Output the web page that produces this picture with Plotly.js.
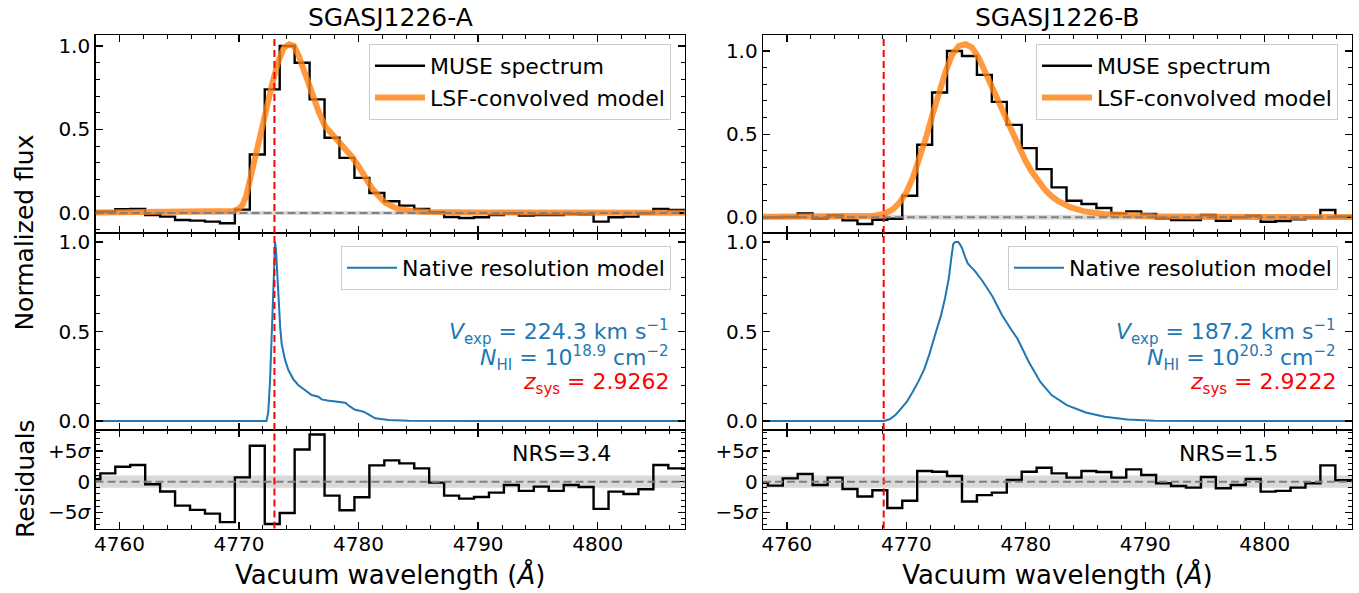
<!DOCTYPE html>
<html>
<head>
<meta charset="utf-8">
<script src="https://cdn.plot.ly/plotly-3.0.1.min.js"></script>
<style>
html,body{margin:0;padding:0;background:#ffffff;}
#chart{width:1359px;height:593px;}
</style>
</head>
<body>
<div id="chart"></div>
<script>
// ---------------- data ----------------
const panelTitles = ["SGASJ1226-A", "SGASJ1226-B"];

// MUSE pixel centres (Å)
const wavelength = [4757.78, 4759.03, 4760.28, 4761.53, 4762.78, 4764.03, 4765.28, 4766.53, 4767.78, 4769.03,
  4770.28, 4771.53, 4772.78, 4774.03, 4775.28, 4776.53, 4777.78, 4779.03, 4780.28, 4781.53,
  4782.78, 4784.03, 4785.28, 4786.53, 4787.78, 4789.03, 4790.28, 4791.53, 4792.78, 4794.03,
  4795.28, 4796.53, 4797.78, 4799.03, 4800.28, 4801.53, 4802.78, 4804.03, 4805.28, 4806.53, 4807.78];

// Normalized MUSE flux
const fluxA = [0.008, 0.008, 0.022, 0.024, -0.012, -0.022, -0.042, -0.046, -0.052, -0.062,
  0.02, 0.35, 0.74, 1.0, 0.90, 0.68, 0.45, 0.33, 0.21, 0.12,
  0.07, 0.044, 0.024, 0.004, -0.024, -0.03, -0.026, -0.012, -0.002, -0.016,
  -0.012, -0.012, -0.006, -0.008, -0.052, -0.026, -0.022, -0.002, 0.024, 0.018, 0.018];
const fluxB = [0.0, 0.0, 0.002, 0.024, -0.006, 0.012, -0.018, -0.04, -0.014, -0.008,
  0.13, 0.436, 0.75, 1.0, 0.97, 0.856, 0.694, 0.556, 0.416, 0.29,
  0.18, 0.10, 0.08, 0.056, 0.024, 0.036, 0.02, -0.006, -0.016, -0.016,
  0.014, -0.02, 0.0, 0.01, -0.026, -0.022, -0.012, 0.0, 0.044, 0.004, 0.004];

// Residuals in units of sigma
const residA = [0.38, 1.35, 2.43, 2.7, -0.43, -1.6, -3.9, -4.6, -5.2, -6.6,
  0.7, 5.84, -6.9, -5.1, 5.24, 7.68, -2.27, -4.65, -2.54, 2.65,
  3.46, 2.97, 2.16, -0.16, -2.27, -2.76, -2.49, -1.78, -0.54, -1.51,
  -0.81, -1.51, -0.54, -0.86, -4.43, -1.62, -2.0, -1.24, 2.7, 2.16, 2.16];
const residB = [-0.2, -0.65, 0.54, 1.24, -0.54, 0.65, -1.19, -2.43, -1.4, -4.3,
  -3.1, 1.73, 1.62, 0.92, -3.24, -2.2, -1.78, 0.27, 1.62, 2.27,
  1.35, 0.65, 1.73, 1.57, 0.65, 2.0, 1.08, -0.27, -0.7, -0.97,
  0.76, -1.08, -0.54, 0.43, -1.62, -1.51, -0.97, -0.27, 2.65, 0.22, 0.22];

// LSF-convolved model
const lsfWaveA = [4758.0, 4762.0, 4766.0, 4768.0, 4769.0, 4769.5, 4770.0, 4770.3, 4770.6, 4771.1,
  4771.7, 4772.2, 4772.8, 4773.3, 4773.75, 4774.2, 4774.6, 4775.0, 4775.6, 4776.1,
  4776.7, 4777.2, 4777.8, 4778.3, 4778.9, 4779.4, 4780.0, 4780.6, 4781.1, 4781.7,
  4782.2, 4782.8, 4783.3, 4784.4, 4786.1, 4790.0, 4800.0, 4807.3];
const lsfFluxA = [0.003, 0.003, 0.003, 0.004, 0.007, 0.012, 0.025, 0.05, 0.10, 0.26,
  0.44, 0.62, 0.78, 0.91, 0.99, 1.01, 1.0, 0.94, 0.82, 0.70,
  0.60, 0.52, 0.47, 0.43, 0.39, 0.34, 0.28, 0.21, 0.15, 0.10,
  0.064, 0.04, 0.024, 0.012, 0.006, 0.003, 0.002, 0.002];
const lsfWaveB = [4758.0, 4764.0, 4766.0, 4767.25, 4768.15, 4768.9, 4769.45, 4770.0, 4770.55, 4771.1,
  4771.65, 4772.2, 4772.75, 4773.3, 4773.85, 4774.4, 4774.95, 4775.5, 4776.05, 4776.6,
  4777.15, 4777.7, 4778.25, 4778.8, 4779.35, 4779.9, 4780.45, 4781.0, 4781.55, 4782.1,
  4782.65, 4783.75, 4784.9, 4786.5, 4788.7, 4790.7, 4795.0, 4807.3];
const lsfFluxB = [0.003, 0.004, 0.006, 0.01, 0.02, 0.05, 0.09, 0.15, 0.24, 0.35,
  0.48, 0.62, 0.76, 0.88, 0.98, 1.03, 1.04, 1.02, 0.96, 0.87,
  0.78, 0.69, 0.60, 0.51, 0.43, 0.35, 0.28, 0.22, 0.17, 0.13,
  0.10, 0.06, 0.036, 0.02, 0.01, 0.006, 0.003, 0.002];

// Native resolution model
const nativeWaveA = [4758.0, 4772.3, 4772.45, 4772.6, 4772.72, 4772.85, 4772.95, 4773.02, 4773.1, 4773.2,
  4773.3, 4773.44, 4773.57, 4773.72, 4773.86, 4774.13, 4774.55, 4774.97, 4775.53, 4776.08,
  4776.64, 4776.92, 4777.4, 4778.04, 4778.5, 4778.88, 4779.3, 4779.71, 4780.1, 4780.41,
  4780.83, 4781.39, 4782.5, 4784.2, 4790.0, 4807.3];
const nativeFluxA = [0.0, 0.0, 0.05, 0.23, 0.45, 0.72, 0.92, 1.0, 0.95, 0.82,
  0.69, 0.53, 0.43, 0.38, 0.34, 0.285, 0.233, 0.20, 0.173, 0.145,
  0.136, 0.121, 0.115, 0.111, 0.108, 0.102, 0.08, 0.063, 0.058, 0.052,
  0.037, 0.015, 0.006, 0.001, 0.0, 0.0];
const nativeWaveB = [4758.0, 4768.13, 4768.6, 4769.08, 4769.5, 4770.04, 4770.5, 4771.0, 4771.5, 4771.95,
  4772.4, 4772.9, 4773.25, 4773.55, 4773.8, 4773.93, 4774.1, 4774.34, 4774.5, 4774.66,
  4774.9, 4775.14, 4775.78, 4776.41, 4777.21, 4778.0, 4778.8, 4779.28, 4780.24, 4781.2,
  4782.15, 4783.43, 4785.02, 4786.6, 4788.5, 4790.76, 4795.0, 4807.3];
const nativeFluxB = [0.0, 0.0, 0.01, 0.034, 0.065, 0.108, 0.16, 0.22, 0.29, 0.378,
  0.48, 0.59, 0.69, 0.797, 0.93, 0.99, 1.0, 1.0, 0.985, 0.965,
  0.92, 0.88, 0.834, 0.778, 0.695, 0.592, 0.508, 0.462, 0.331, 0.22,
  0.145, 0.089, 0.048, 0.024, 0.009, 0.002, 0.0, 0.0];

// Fit results
const lyaRest = 1215.67;
const zsys = [2.9262, 2.9222];
const vexp = ["224.3", "187.2"];
const logNHI = ["18.9", "20.3"];
const nrs = ["3.4", "1.5"];
const fluxErr = [0.012, 0.015];      // flux noise band in the top panels
const residBand = 1;                 // ±1 sigma band
const residTickVals = [-5, 0, 5];

// ---------------- drawing ----------------
const FONT = "DejaVu Sans, Liberation Sans, sans-serif";
const W = 1359, H = 593;
const colPx = [[95.5, 685], [763, 1352]];
const rowPx = [[35.3, 233], [233, 430], [430, 528.5]];
const xRange = [4758, 4807.3];
const yRanges = [[[-0.12, 1.064], [-0.05, 1.05], [-7.63, 8.41]],
                 [[-0.094, 1.094], [-0.05, 1.05], [-7.63, 8.41]]];

// styled text helpers (explicit sizes, sub/superscripts via baseline-shift)
const it = (t, px) => "<span style=\"font-style:italic;font-size:" + px + "px\">" + t + "</span>";
const sub = (t, px) => "<span style=\"font-size:" + px + "px;baseline-shift:-" + Math.round(px * 0.35) + "px\">" + t + "</span>";
const sup = (t, px) => "<span style=\"font-size:" + px + "px;baseline-shift:" + Math.round(px * 0.6) + "px\">" + t + "</span>";
const residTickText = ["\u22125" + it("\u03c3", 20), "0", "+5" + it("\u03c3", 20)];

const dom = (a, b, tot) => [a / tot, b / tot];
const ydom = (top, bot) => [1 - bot / H, 1 - top / H];

const specs = [
  {flux: fluxA, resid: residA, lw: lsfWaveA, lf: lsfFluxA, nw: nativeWaveA, nf: nativeFluxA},
  {flux: fluxB, resid: residB, lw: lsfWaveB, lf: lsfFluxB, nw: nativeWaveB, nf: nativeFluxB}
];

const traces = [];
const shapes = [];
const annotations = [];
const layout = {
  width: W, height: H,
  margin: {l: 0, r: 0, t: 0, b: 0},
  paper_bgcolor: "#ffffff", plot_bgcolor: "#ffffff",
  font: {family: FONT, color: "#000000", size: 20},
  showlegend: true
};

function axId(c, r) { return 3 * c + r + 1; }
function axName(prefix, n) { return n === 1 ? prefix : prefix + n; }

for (let c = 0; c < 2; c++) {
  const s = specs[c];
  const lam = lyaRest * (1 + zsys[c]);
  const leg1 = c === 0 ? "legend" : "legend3";
  const leg2 = c === 0 ? "legend2" : "legend4";
  for (let r = 0; r < 3; r++) {
    const n = axId(c, r);
    const xa = axName("xaxis", n), ya = axName("yaxis", n);
    const xr = axName("x", n), yr = axName("y", n);
    layout[xa] = {
      domain: dom(colPx[c][0], colPx[c][1], W),
      anchor: yr, range: xRange,
      showline: true, mirror: "allticks", linecolor: "#000000", linewidth: 1.3,
      ticks: "inside", ticklen: 7, tickwidth: 1.3, tickcolor: "#000000",
      tick0: 4760, dtick: 10,
      minor: {ticks: "inside", ticklen: 4, tickwidth: 1, tickcolor: "#000000", tick0: 4760, dtick: 2},
      showgrid: false, zeroline: false,
      showticklabels: r === 2,
      ticklabelstandoff: -3,
      tickfont: {family: FONT, size: 20, color: "#000000"}
    };
    if (r === 2) {
      layout[xa].title = {text: "Vacuum wavelength (" + it("\u00c5", 26) + ")", font: {family: FONT, size: 26, color: "#000000"}, standoff: 11};
    }
    const yax = {
      domain: ydom(rowPx[r][0], rowPx[r][1]),
      anchor: xr, range: yRanges[c][r],
      showline: true, mirror: "allticks", linecolor: "#000000", linewidth: 1.3,
      ticks: "inside", ticklen: 7, tickwidth: 1.3, tickcolor: "#000000",
      showgrid: false, zeroline: false,
      tickfont: {family: FONT, size: 20, color: "#000000"}
    };
    if (r < 2) {
      yax.tick0 = 0; yax.dtick = 0.5; yax.tickformat = ".1f";
      yax.minor = {ticks: "inside", ticklen: 4, tickwidth: 1, tickcolor: "#000000", tick0: 0, dtick: 0.1};
    } else {
      yax.tickmode = "array"; yax.tickvals = residTickVals; yax.ticktext = residTickText;
      yax.minor = {ticks: "inside", ticklen: 4, tickwidth: 1, tickcolor: "#000000", tickmode: "linear", tick0: 0, dtick: 1};
    }
    layout[ya] = yax;

    // red systemic line
    shapes.push({type: "line", xref: xr, yref: yr + " domain", x0: lam, x1: lam, y0: 0, y1: 1,
      line: {color: "#ff0000", width: 2, dash: "7px,4px"}, layer: "above"});
    if (r !== 1) {
      const band = r === 0 ? fluxErr[c] : residBand;
      shapes.push({type: "rect", xref: xr + " domain", yref: yr, x0: 0, x1: 1, y0: -band, y1: band,
        fillcolor: "#d9d9d9", line: {width: 0}, layer: "below"});
      shapes.push({type: "line", xref: xr + " domain", yref: yr, x0: 0, x1: 1, y0: 0, y1: 0,
        line: {color: "#808080", width: 2, dash: "8px,4px"}, layer: "above"});
    }
  }
  const n0 = axId(c, 0), n1 = axId(c, 1), n2 = axId(c, 2);
  traces.push({x: wavelength, y: s.flux, xaxis: axName("x", n0), yaxis: axName("y", n0),
    type: "scatter", mode: "lines", line: {shape: "hvh", color: "#000000", width: 2.4},
    name: "MUSE spectrum", legend: leg1, hoverinfo: "skip"});
  traces.push({x: s.lw, y: s.lf, xaxis: axName("x", n0), yaxis: axName("y", n0),
    type: "scatter", mode: "lines", line: {color: "#ff7f0e", width: 6}, opacity: 0.8,
    name: "LSF-convolved model", legend: leg1, hoverinfo: "skip"});
  traces.push({x: s.nw, y: s.nf, xaxis: axName("x", n1), yaxis: axName("y", n1),
    type: "scatter", mode: "lines", line: {color: "#1f77b4", width: 2},
    name: "Native resolution model", legend: leg2, hoverinfo: "skip"});
  traces.push({x: wavelength, y: s.resid, xaxis: axName("x", n2), yaxis: axName("y", n2),
    type: "scatter", mode: "lines", line: {shape: "hvh", color: "#000000", width: 2.4},
    showlegend: false, hoverinfo: "skip"});

  // legends
  const legRight = (colPx[c][1] - 14) / W;
  const legStyle = (ytop) => ({
    x: legRight, xanchor: "right", y: 1 - ytop / H, yanchor: "top",
    bgcolor: "rgba(255,255,255,0.8)", bordercolor: "#cccccc", borderwidth: 1,
    font: {family: FONT, size: 22, color: "#000000"}, tracegroupgap: 0, itemwidth: 50
  });
  layout[leg1] = legStyle(44);
  layout[leg2] = legStyle(246);

  // panel title
  annotations.push({xref: "paper", yref: "paper", x: (colPx[c][0] + colPx[c][1]) / 2 / W, y: 1 - 17 / H,
    xanchor: "center", yanchor: "middle", showarrow: false, text: panelTitles[c],
    font: {family: FONT, size: 25, color: "#000000"}});
  // fit parameters
  const xd = axName("x", n1) + " domain", yv = axName("y", n1);
  const fs = 22, fsS = 15;
  annotations.push({xref: xd, yref: yv, x: 0.977, y: 0.497, xanchor: "right", yanchor: "middle", showarrow: false,
    text: it("V", fs) + sub("exp", fsS) + " = " + vexp[c] + " km s" + sup("\u22121", fsS),
    font: {family: FONT, size: fs, color: "#1f77b4"}});
  annotations.push({xref: xd, yref: yv, x: 0.977, y: 0.352, xanchor: "right", yanchor: "middle", showarrow: false,
    text: it("N", fs) + sub("HI", fsS) + " = 10" + sup(logNHI[c], fsS) + " cm" + sup("\u22122", fsS),
    font: {family: FONT, size: fs, color: "#1f77b4"}});
  annotations.push({xref: xd, yref: yv, x: 0.977, y: 0.207, xanchor: "right", yanchor: "middle", showarrow: false,
    text: it("z", fs) + sub("sys", fsS) + " = " + zsys[c].toFixed(4),
    font: {family: FONT, size: fs, color: "#ff0000"}});
  annotations.push({xref: axName("x", n2) + " domain", yref: axName("y", n2), x: 0.79, y: 4.6,
    xanchor: "center", yanchor: "middle", showarrow: false, text: "NRS=" + nrs[c],
    font: {family: FONT, size: 22, color: "#000000"}});
}

annotations.push({xref: "paper", yref: "paper", x: 25 / W, y: 1 - 232.6 / H, textangle: -90,
  xanchor: "center", yanchor: "middle", showarrow: false, text: "Normalized flux",
  font: {family: FONT, size: 25, color: "#000000"}});
annotations.push({xref: "paper", yref: "paper", x: 25 / W, y: 1 - 479 / H, textangle: -90,
  xanchor: "center", yanchor: "middle", showarrow: false, text: "Residuals",
  font: {family: FONT, size: 25, color: "#000000"}});

layout.shapes = shapes;
layout.annotations = annotations;

Plotly.newPlot("chart", traces, layout, {staticPlot: true, displayModeBar: false});
</script>
</body>
</html>
